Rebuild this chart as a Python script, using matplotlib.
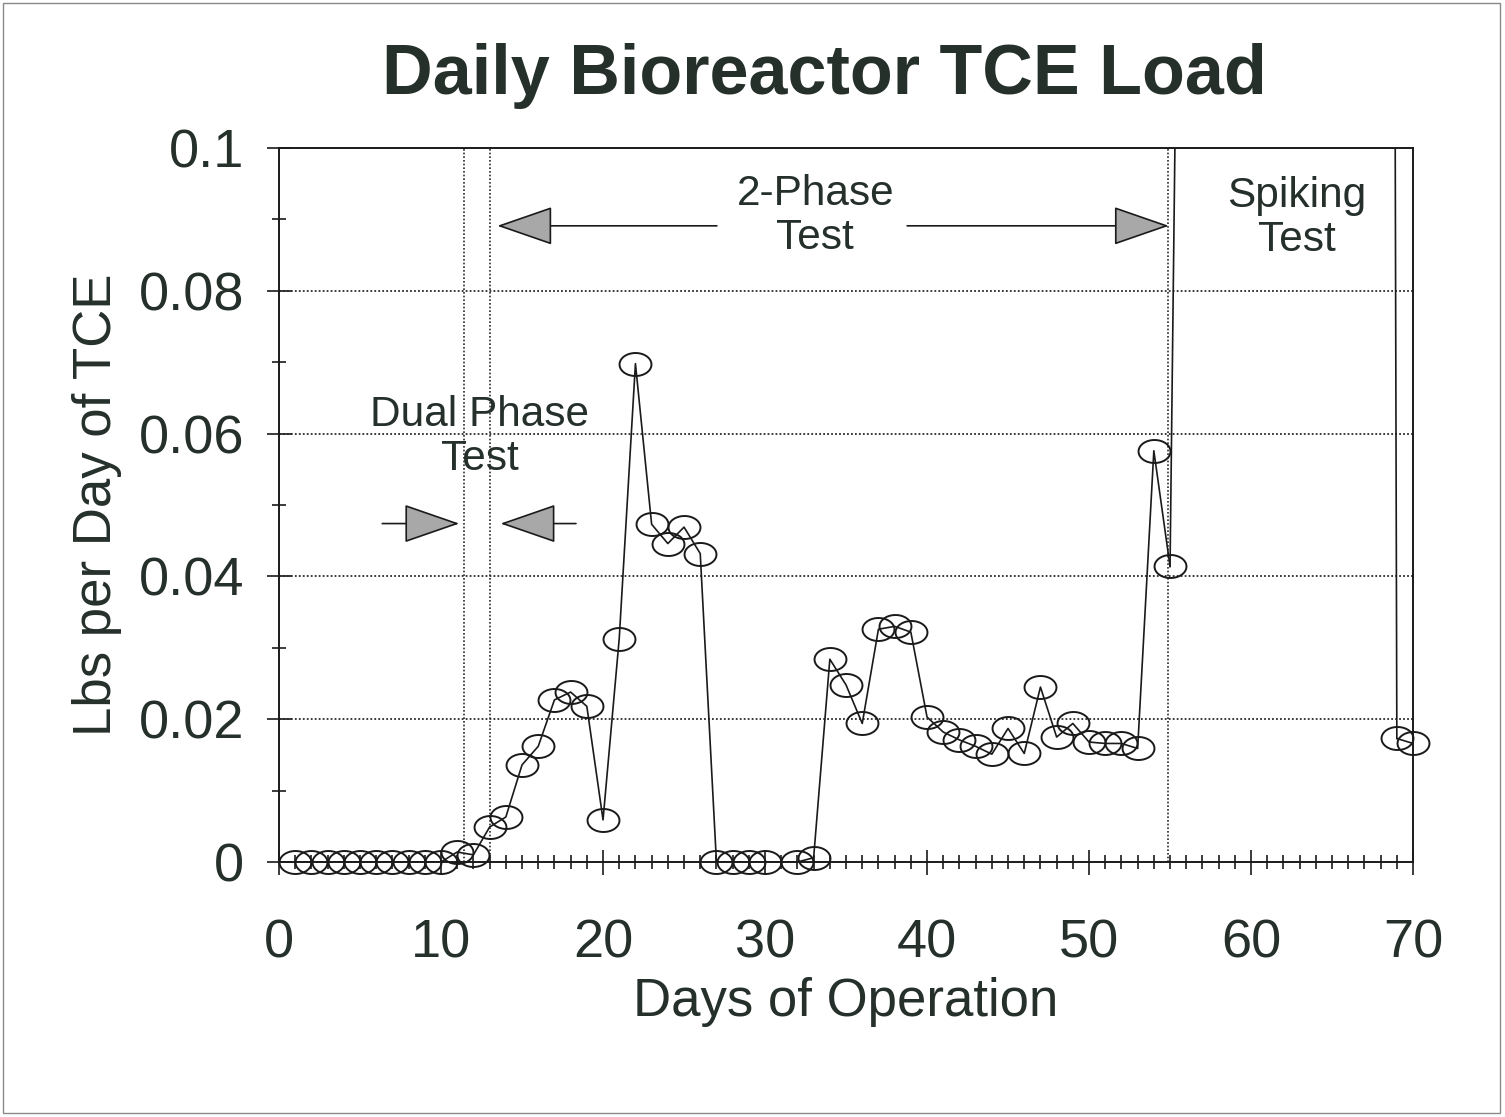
import matplotlib
matplotlib.use('Agg')
import matplotlib.pyplot as plt
from matplotlib.path import Path
from matplotlib.patches import FancyArrowPatch, Rectangle
from matplotlib.ticker import MultipleLocator
import numpy as np

plt.rcParams['font.family'] = ['Liberation Sans', 'DejaVu Sans']

TEXT_COLOR = '#25302b'
TITLE = 'Daily Bioreactor TCE Load'

# day of operation and measured load (lbs/day)
days = [1, 2, 3, 4, 5, 6, 7, 8, 9, 10,
        11, 12, 13, 14, 15, 16, 17, 18, 19, 20,
        21, 22, 23, 24, 25, 26, 27, 28, 29, 30,
        32, 33, 34, 35, 36, 37, 38, 39, 40, 41,
        42, 43, 44, 45, 46, 47, 48, 49, 50, 51,
        52, 53, 54, 55, 69, 70]
load = [0, 0, 0, 0, 0, 0, 0, 0, 0, 0,
        0.0014, 0.001, 0.0049, 0.0063, 0.0136, 0.0162, 0.0227, 0.0238, 0.0218, 0.0059,
        0.0313, 0.0698, 0.0473, 0.0446, 0.0469, 0.0432, 0, 0, 0, 0,
        0, 0.0006, 0.0284, 0.0248, 0.0194, 0.0326, 0.0330, 0.0322, 0.0203, 0.0182,
        0.0171, 0.0162, 0.0151, 0.0187, 0.0152, 0.0245, 0.0175, 0.0194, 0.0168, 0.0166,
        0.0166, 0.0159, 0.0576, 0.0414, 0.0173, 0.0166]

# phase boundaries (days)
dual_start = 11.4
dual_end = 13.0
two_phase_end = 54.9
# spiking test edges: (day of the point, day where the line meets the top)
spike_edges = [(55, 55.3), (69, 68.9)]

x_ticks = [0, 10, 20, 30, 40, 50, 60, 70]
y_ticks = [0, 0.02, 0.04, 0.06, 0.08, 0.1]
y_tick_labels = ['0', '0.02', '0.04', '0.06', '0.08', '0.1']

# ellipse marker (wider than tall)
t = np.linspace(0, 2 * np.pi, 60)
ellipse = Path(np.column_stack([np.cos(t), 0.72 * np.sin(t)]), closed=True)

fig = plt.figure(figsize=(15.05, 11.17), dpi=100)
ax = fig.add_axes([0.1854, 0.2283, 0.7535, 0.6392])

ax.plot(days[:54], load[:54], color='#1a1a1a', lw=1.2, zorder=3)
ax.plot(days[54:], load[54:], color='#1a1a1a', lw=1.2, zorder=3)
ax.plot(days, load, linestyle='none', marker=ellipse, markersize=23,
        markerfacecolor='none', markeredgecolor='#1a1a1a', markeredgewidth=1.4,
        zorder=4, clip_on=False)

# lines from the data out to the top (spiking test region)
for d, xtop in spike_edges:
    ax.plot([d, xtop], [load[days.index(d)], 0.1], color='#1a1a1a', lw=1.2, zorder=3)

# dotted phase boundaries and grid
for xb in [dual_start, dual_end, two_phase_end]:
    ax.axvline(xb, color='#2a2a2a', lw=1.2, linestyle=(0, (1, 1.2)), zorder=2)
for yv in y_ticks[1:-1]:
    ax.axhline(yv, color='#2a2a2a', lw=1.3, linestyle=(0, (1, 1.2)), zorder=2)

ax.set_xlim(0, 70)
ax.set_ylim(0, 0.1)
ax.set_xticks(x_ticks)
ax.set_yticks(y_ticks)
ax.set_yticklabels(y_tick_labels)
ax.xaxis.set_minor_locator(MultipleLocator(1))
ax.yaxis.set_minor_locator(MultipleLocator(0.01))
ax.tick_params(axis='both', which='major', direction='inout', length=18, width=1.2,
               color='#1a1a1a', labelsize=39, labelcolor=TEXT_COLOR)
ax.tick_params(axis='both', which='minor', direction='inout', length=10, width=1.2,
               color='#1a1a1a')
ax.tick_params(axis='x', which='major', pad=32)
ax.tick_params(axis='y', which='major', pad=16)
for s in ax.spines.values():
    s.set_linewidth(1.4)
    s.set_color('#1a1a1a')

ax.set_xlabel('Days of Operation', fontsize=38, color=TEXT_COLOR, labelpad=6)
ax.set_ylabel('Lbs per Day of TCE', fontsize=38, color=TEXT_COLOR, labelpad=12)
fig.text(0.548, 0.932, TITLE, ha='center', va='center', fontsize=50.5,
         fontweight='bold', color=TEXT_COLOR)

# phase annotations
ax.text(12.4, 0.0595, 'Dual Phase\nTest', ha='center', va='center', fontsize=30.5,
        color=TEXT_COLOR, linespacing=1.15)
ax.text(33.1, 0.0905, '2-Phase\nTest', ha='center', va='center', fontsize=30.5,
        color=TEXT_COLOR, linespacing=1.15)
ax.text(62.8, 0.0902, 'Spiking\nTest', ha='center', va='center', fontsize=30.5,
        color=TEXT_COLOR, linespacing=1.15)

arrows = [(6.2, dual_start - 0.1, 0.0474), (18.5, dual_end + 0.5, 0.0474),
          (27.2, dual_end + 0.3, 0.0891), (38.6, two_phase_end + 0.2, 0.0891)]
for x0, x1, yv in arrows:
    ar = FancyArrowPatch((x0, yv), (x1, yv),
                         arrowstyle='-|>,head_length=2.6,head_width=0.9',
                         mutation_scale=14, lw=1.2, edgecolor='#1a1a1a',
                         facecolor='#a8a8a8', zorder=5)
    ax.add_patch(ar)

fig.patches.append(Rectangle((0.002, 0.004), 0.995, 0.993, transform=fig.transFigure,
                             fill=False, edgecolor='#8a8a8a', lw=1.0))

fig.savefig('out.png', dpi=100, facecolor='white')
